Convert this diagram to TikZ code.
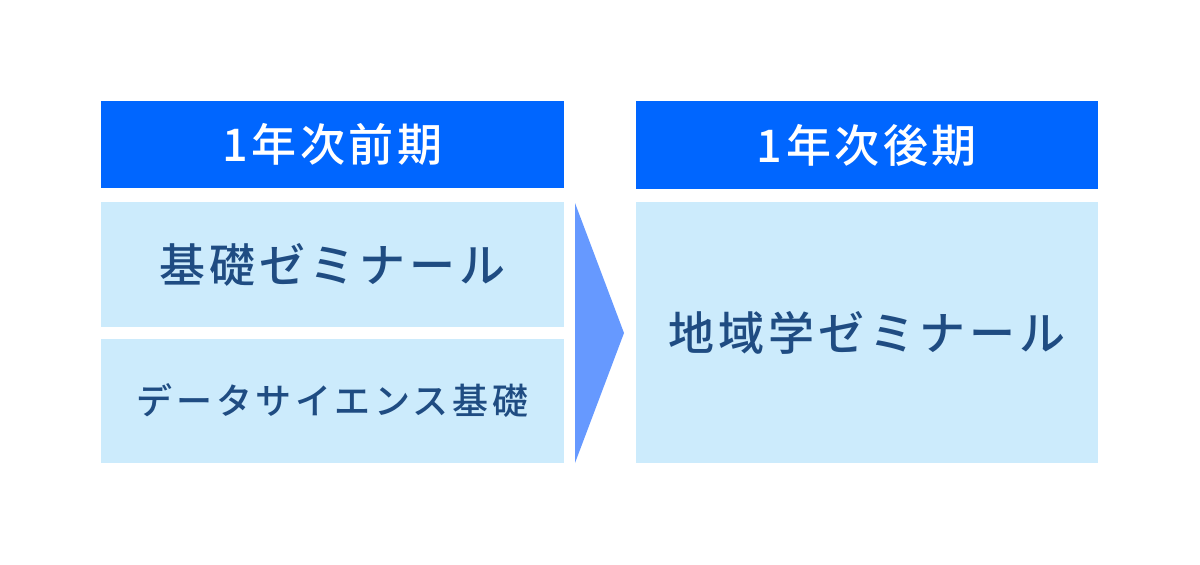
\documentclass[tikz,border=0pt]{standalone}
\usepackage{fontspec}
\newfontfamily\jp{Noto Sans CJK JP Medium}
\definecolor{hdr}{RGB}{0,102,255}
\definecolor{boxc}{RGB}{204,235,252}
\definecolor{arr}{RGB}{102,153,255}
\definecolor{txt}{RGB}{31,76,130}
\begin{document}
\begin{tikzpicture}[x=1pt,y=-1pt,
  hdrbox/.style={fill=hdr,draw=none},
  lbox/.style={fill=boxc,draw=none},
  hdrtext/.style={text=white,font=\jp\fontsize{45}{45}\selectfont\addfontfeature{LetterSpace=8}},
  bigtext/.style={text=txt,font=\jp\fontsize{46}{46}\selectfont\addfontfeature{LetterSpace=9}},
  smalltext/.style={text=txt,font=\jp\fontsize{36}{36}\selectfont\addfontfeature{LetterSpace=10}}]
\useasboundingbox (0,0) rectangle (1200,565);
\fill[white] (0,0) rectangle (1200,565);
\path[hdrbox] (101,101) rectangle (564,188) node[midway,hdrtext] (h1) {1年次前期};
\path[hdrbox] (636,101) rectangle (1098,189) node[midway,hdrtext] (h2) {1年次後期};
\path[lbox] (101,202) rectangle (564,327) node[midway,bigtext] (b1) {基礎ゼミナール};
\path[lbox] (101,339) rectangle (564,463) node[midway,smalltext] (b2) {データサイエンス基礎};
\path[lbox] (636,202) rectangle (1098,463) node[midway,bigtext] (b3) {地域学ゼミナール};
\fill[arr] (575,203) coordinate (a1) -- (624,333) coordinate (a2) -- (575,463) coordinate (a3) -- cycle;
\end{tikzpicture}
\end{document}
